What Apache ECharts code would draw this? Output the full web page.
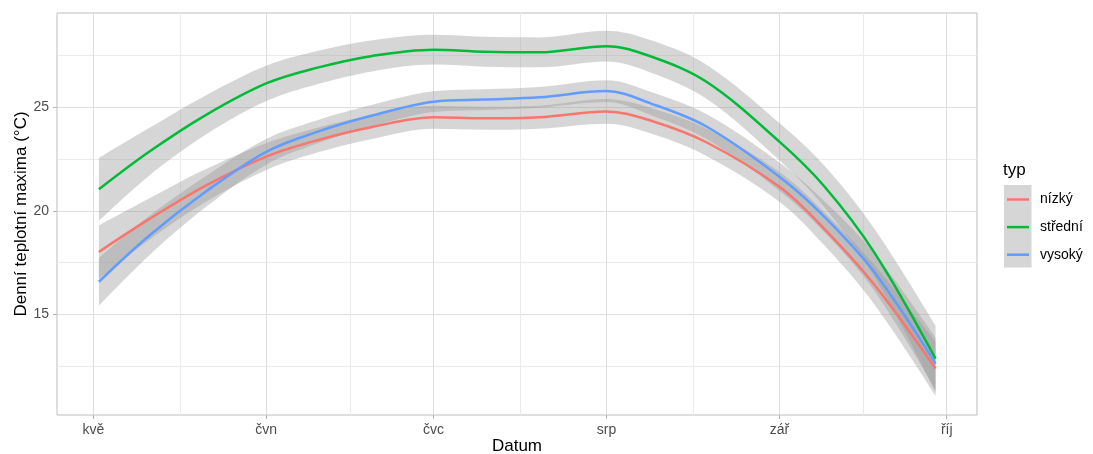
<!DOCTYPE html>
<html>
<head>
<meta charset="utf-8">
<script src="https://cdn.jsdelivr.net/npm/echarts@6/dist/echarts.min.js"></script>
<style>
  html, body { margin: 0; padding: 0; background: #ffffff; }
  #chart { width: 1093px; height: 454px; }
</style>
</head>
<body>
<div id="chart"></div>
<script>
// Smoothed daily temperature maxima by station type (loess fit with 95 % band)
const dates = ['2021-05-02', '2021-05-11', '2021-05-21', '2021-06-01', '2021-06-10', '2021-06-20',
  '2021-07-01', '2021-07-10', '2021-07-20', '2021-08-01', '2021-08-09', '2021-08-19',
  '2021-09-01', '2021-09-09', '2021-09-18', '2021-09-29'];
const typNames = ['nízký', 'střední', 'vysoký'];
const nizky   = [18.02, 19.60, 21.20, 22.62, 23.40, 24.05, 24.52, 24.47, 24.52, 24.80, 24.35, 23.30, 21.16, 19.15, 16.45, 12.39];
const stredni = [21.04, 22.85, 24.60, 26.15, 26.90, 27.48, 27.78, 27.68, 27.65, 27.95, 27.45, 26.22, 23.34, 21.20, 18.00, 12.87];
const vysoky  = [16.58, 18.80, 20.90, 22.85, 23.80, 24.60, 25.27, 25.37, 25.48, 25.78, 25.18, 24.06, 21.65, 19.74, 17.05, 12.63];
// half widths of the confidence band
const nizkyCi   = [1.28, 1.00, 0.80, 0.65, 0.60, 0.58, 0.56, 0.56, 0.56, 0.60, 0.62, 0.66, 0.72, 0.80, 0.95, 1.30];
const stredniCi = [1.52, 1.15, 0.95, 0.85, 0.80, 0.75, 0.72, 0.72, 0.72, 0.74, 0.78, 0.82, 0.90, 1.00, 1.15, 1.60];
const vysokyCi  = [1.15, 0.95, 0.75, 0.62, 0.56, 0.52, 0.50, 0.50, 0.50, 0.53, 0.56, 0.60, 0.68, 0.75, 0.90, 1.25];
const monthTicks  = ['2021-05-01', '2021-06-01', '2021-07-01', '2021-08-01', '2021-09-01', '2021-10-01'];
const monthLabels = ['kvě', 'čvn', 'čvc', 'srp', 'zář', 'říj'];
const yTicks      = [15, 20, 25];
const yMinorTicks = [12.5, 17.5, 22.5, 27.5];

const DAY = 86400000;
const toTs = s => { const p = s.split('-').map(Number); return Date.UTC(p[0], p[1] - 1, p[2]); };
const xs = dates.map(toTs);
const monthTs = monthTicks.map(toTs);
const minorTs = monthTs.slice(1).map((t, i) => (t + monthTs[i]) / 2);
const xMin = monthTs[0] - 6.51 * DAY;
const xMax = monthTs[monthTs.length - 1] + 5.43 * DAY;

const FONT = '"Liberation Sans", Arial, Helvetica, sans-serif';
const BAND = '#999999';
const groups = [
  { name: typNames[0], color: '#F8766D', values: nizky,   ci: nizkyCi },
  { name: typNames[1], color: '#00BA38', values: stredni, ci: stredniCi },
  { name: typNames[2], color: '#619CFF', values: vysoky,  ci: vysokyCi }
];

// Points are stored as [temperature, date] so that stacking acts on the temperature
const bandEncode = { x: 1, y: 0 };
const series = [];
groups.forEach((g, i) => {
  const stack = 'band' + i;
  series.push({
    name: g.name + ' dolní mez', type: 'line', stack: stack, smooth: 0.35,
    symbol: 'none', silent: true, encode: bandEncode,
    lineStyle: { width: 0, opacity: 0 },
    data: xs.map((x, k) => [g.values[k] - g.ci[k], x])
  });
  series.push({
    name: g.name + ' pás', type: 'line', stack: stack, smooth: 0.35,
    symbol: 'none', silent: true, encode: bandEncode,
    lineStyle: { width: 0, opacity: 0 },
    areaStyle: { color: BAND, opacity: 0.4 },
    data: xs.map((x, k) => [2 * g.ci[k], x])
  });
  series.push({
    name: g.name, type: 'line', smooth: 0.35, symbol: 'none',
    lineStyle: { color: g.color, width: 2.5 }, itemStyle: { color: g.color },
    data: xs.map((x, k) => [x, g.values[k]])
  });
});

const chart = echarts.init(document.getElementById('chart'));
chart.setOption({
  animation: false,
  backgroundColor: '#ffffff',
  textStyle: { fontFamily: FONT },
  title: {
    text: 'typ', left: 998, top: 157,
    textStyle: { fontFamily: FONT, fontSize: 17, fontWeight: 'normal', color: '#000000' }
  },
  graphic: [{
    type: 'rect', left: 1004, top: 185, z: 0,
    shape: { width: 27.5, height: 82.5 },
    style: { fill: 'rgba(153,153,153,0.4)' }
  }],
  legend: {
    data: typNames, orient: 'vertical', left: 1007, top: 192.5, padding: 0,
    icon: 'rect', itemWidth: 22, itemHeight: 2.5, itemGap: 13.6,
    textStyle: { fontFamily: FONT, fontSize: 14, color: '#000000', lineHeight: 14, padding: [0, 0, 0, 6] }
  },
  grid: {
    left: 57, right: 116, top: 13, bottom: 39, outerBoundsMode: 'none',
    show: true, borderColor: '#BDBDBD', borderWidth: 1, backgroundColor: 'transparent'
  },
  xAxis: [{
    type: 'value', min: xMin, max: xMax,
    axisLine: { show: false },
    axisTick: { show: true, customValues: monthTs, length: 4, lineStyle: { color: '#B3B3B3' } },
    axisLabel: {
      customValues: monthTs, margin: 8, fontSize: 14, color: '#4D4D4D', fontFamily: FONT,
      formatter: v => { const i = monthTs.indexOf(v); return i >= 0 ? monthLabels[i] : ''; }
    },
    splitLine: { show: true, lineStyle: { color: '#DEDEDE', width: 1 } },
    name: 'Datum', nameLocation: 'middle', nameGap: 23, nameMoveOverlap: false,
    nameTextStyle: { fontSize: 17, color: '#000000', fontFamily: FONT }
  }, {
    type: 'value', min: xMin, max: xMax, gridIndex: 0,
    axisLine: { show: false },
    axisTick: { show: false, customValues: minorTs },
    axisLabel: { show: false, customValues: minorTs },
    splitLine: { show: true, lineStyle: { color: '#EBEBEB', width: 1 } }
  }],
  yAxis: [{
    type: 'value', min: 10.15, max: 29.55,
    axisLine: { show: false },
    axisTick: { show: true, customValues: yTicks, length: 4, lineStyle: { color: '#B3B3B3' } },
    axisLabel: { customValues: yTicks, margin: 8, fontSize: 14, color: '#4D4D4D', fontFamily: FONT },
    splitLine: { show: true, lineStyle: { color: '#DEDEDE', width: 1 } },
    name: 'Denní teplotní maxima (°C)', nameLocation: 'middle', nameGap: 27, nameMoveOverlap: false,
    nameTextStyle: { fontSize: 17, color: '#000000', fontFamily: FONT }
  }, {
    type: 'value', min: 10.15, max: 29.55, gridIndex: 0,
    axisLine: { show: false },
    axisTick: { show: false, customValues: yMinorTicks },
    axisLabel: { show: false, customValues: yMinorTicks },
    splitLine: { show: true, lineStyle: { color: '#EBEBEB', width: 1 } }
  }],
  series: series
});
</script>
</body>
</html>
